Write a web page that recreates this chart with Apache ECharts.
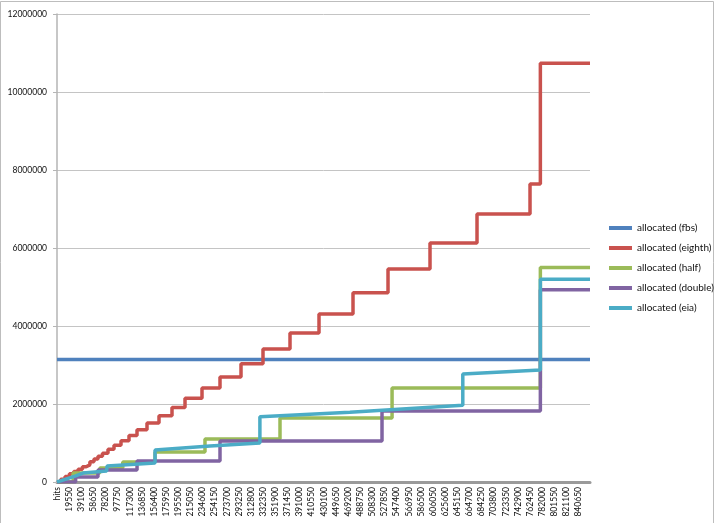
<!DOCTYPE html>
<html>
<head>
<meta charset="utf-8">
<script src="https://cdn.jsdelivr.net/npm/echarts@6/dist/echarts.min.js"></script>
<style>
html,body{margin:0;padding:0;background:#fff;}
#c{width:717px;height:523px;}
</style>
</head>
<body>
<div id="c"></div>
<script>
// tick spacing of the hits axis and its extent
var hitsStep = 19550;
var hitsMax = 859000;
var yTicks = [0, 2000000, 4000000, 6000000, 8000000, 10000000, 12000000];
var seriesNames = ['allocated (fbs)', 'allocated (eighth)', 'allocated (half)', 'allocated (double)', 'allocated (eia)'];

// [hits, allocated] — change points (level starts at that hits value)
var fbs = [[0, 3140000], [859000, 3140000]];
var eighth = [[0, 0], [6000, 70000], [13000, 140000], [20000, 210000], [27000, 270000], [34000, 330000],
  [41000, 390000], [47000, 440000], [53000, 520000], [59630, 590000], [66080, 660000], [73330, 740000],
  [82200, 840000], [91870, 940000], [103150, 1060000], [116040, 1190000], [128940, 1340000],
  [145050, 1510000], [164390, 1700000], [185340, 1910000], [206300, 2150000], [233700, 2410000],
  [262700, 2690000], [296550, 3030000], [332000, 3410000], [375520, 3820000], [422260, 4310000],
  [477060, 4850000], [533470, 5460000], [601160, 6130000], [676910, 6870000], [762330, 7640000],
  [779000, 10740000], [859000, 10740000]];
var half = [[0, 0], [26000, 230000], [69000, 360000], [106000, 510000], [158000, 770000],
  [238500, 1100000], [359400, 1640000], [540000, 2410000], [779000, 5500000], [859000, 5500000]];
var double_ = [[0, 0], [30000, 130000], [66000, 310000], [129000, 540000], [262700, 1050000],
  [523800, 1820000], [779000, 4930000], [859000, 4930000]];
// eia grows gradually between jumps: explicit points
var eia = [[0, 0], [29000, 150000], [42000, 230000], [80000, 280000], [80600, 410000], [158000, 490000],
  [158000, 820000], [246600, 920000], [327000, 1000000], [327000, 1670000], [472000, 1790000],
  [654000, 1970000], [654000, 2770000], [779000, 2870000], [779000, 5200000], [859000, 5200000]];

var colors = ['#4F81BD', '#C9524E', '#9BBB59', '#8064A2', '#4BACC6'];
var font = 'Lato, "Liberation Sans", sans-serif';

var chart = echarts.init(document.getElementById('c'), null, {renderer: 'canvas'});
function mk(name, data, color, step) {
  return {
    name: name, type: 'line', data: data, step: step, showSymbol: false, symbol: 'none',
    lineStyle: {color: color, width: 3.5}, itemStyle: {color: color}, animation: false
  };
}
chart.setOption({
  animation: false,
  backgroundColor: '#fff',
  color: colors,
  grid: {left: 57, right: 127, top: 14, bottom: 41},
  legend: {
    orient: 'vertical', left: 604, top: 216, icon: 'rect', itemWidth: 23, itemHeight: 4, itemGap: 6,
    textStyle: {fontFamily: font, fontSize: 10, color: '#111', lineHeight: 14},
    data: seriesNames
  },
  xAxis: {
    type: 'value', min: 0, max: hitsMax, interval: hitsStep,
    axisLine: {show: true, lineStyle: {color: '#9a9a9a', width: 3}},
    axisTick: {show: false},
    splitLine: {show: false},
    axisLabel: {
      rotate: 90, margin: 5, fontFamily: font, fontSize: 8.5, color: '#111',
      formatter: function (v) { if (v === 0) return 'hits'; return (v % hitsStep === 0) ? String(v) : ''; }
    }
  },
  yAxis: {
    type: 'value', min: yTicks[0], max: yTicks[yTicks.length - 1], interval: yTicks[1] - yTicks[0],
    axisLine: {show: true, lineStyle: {color: '#b5b5b5', width: 1.5}},
    axisTick: {show: true, length: 4, lineStyle: {color: '#b5b5b5'}},
    splitLine: {show: true, lineStyle: {color: '#c4c4c4', width: 1}},
    axisLabel: {margin: 10, fontFamily: font, fontSize: 8.5, color: '#111',
      formatter: function (v) { return String(v); }}
  },
  graphic: [{type: 'rect', shape: {x: 0.5, y: 1.5, width: 713, height: 530}, style: {fill: 'none', stroke: '#bdbdbd', lineWidth: 1}, silent: true}],
  series: [
    mk(seriesNames[0], fbs, colors[0], false),
    mk(seriesNames[1], eighth, colors[1], 'end'),
    mk(seriesNames[2], half, colors[2], 'end'),
    mk(seriesNames[3], double_, colors[3], 'end'),
    mk(seriesNames[4], eia, colors[4], false)
  ]
});
</script>
</body>
</html>
